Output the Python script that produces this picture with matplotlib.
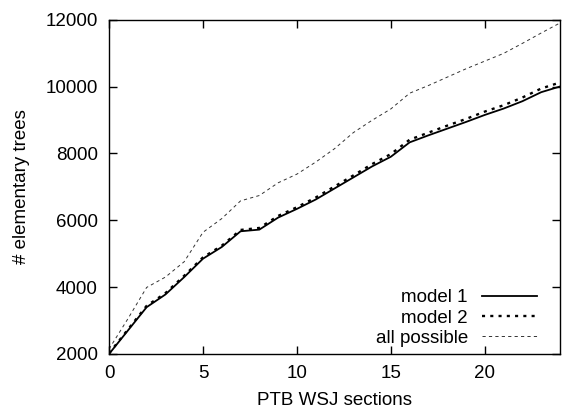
from matplotlib import pyplot as plt
import numpy as np

plt.rcParams['font.family'] = ['Liberation Sans', 'DejaVu Sans']
plt.rcParams['font.size'] = 13.5

# number of WSJ sections used for extraction
sections = np.arange(0, 25)

# elementary trees extracted
model1 = [2000, 2700, 3400, 3780, 4300, 4850, 5200, 5670, 5720, 6080,
          6340, 6620, 6950, 7280, 7610, 7900, 8330, 8540, 8740, 8940,
          9150, 9340, 9560, 9830, 10000]
model2 = [2020, 2730, 3440, 3820, 4340, 4890, 5240, 5710, 5770, 6130,
          6390, 6680, 7010, 7340, 7680, 7980, 8410, 8620, 8830, 9030,
          9250, 9440, 9670, 9940, 10120]
allposs = [2150, 3050, 3990, 4300, 4760, 5640, 6050, 6580, 6740, 7120,
           7380, 7740, 8140, 8620, 8990, 9330, 9800, 10030, 10280, 10530,
           10760, 10990, 11290, 11600, 11900]

fig = plt.figure(figsize=(5.77, 4.09), dpi=100)
ax = fig.add_axes([0.189, 0.1345, 0.7815, 0.8175])

ax.plot(sections, model1, color='black', linewidth=1.3, label='model 1')
ax.plot(sections, model2, color='black', linewidth=1.7,
        linestyle=(0, (1.3, 2.2)), label='model 2')
ax.plot(sections, allposs, color='#333333', linewidth=0.7,
        linestyle=(0, (3.3, 3.3)), label='all possible')

ax.set_xlim(0, 24)
ax.set_ylim(2000, 12000)
ax.set_xticks([0, 5, 10, 15, 20])
ax.set_yticks([2000, 4000, 6000, 8000, 10000, 12000])
ax.tick_params(direction='in', top=True, right=True, length=6, width=1,
               pad=8)
for s in ax.spines.values():
    s.set_linewidth(1)

ax.set_xlabel('PTB WSJ sections', labelpad=7)
ax.set_ylabel('# elementary trees', labelpad=11)

ax.legend(loc='lower right', bbox_to_anchor=(0.949, 0.021),
          frameon=False, markerfirst=False, handlelength=2.93,
          handletextpad=0.75, labelspacing=0.17, borderpad=0,
          borderaxespad=0)

plt.savefig('out.png', dpi=100)
